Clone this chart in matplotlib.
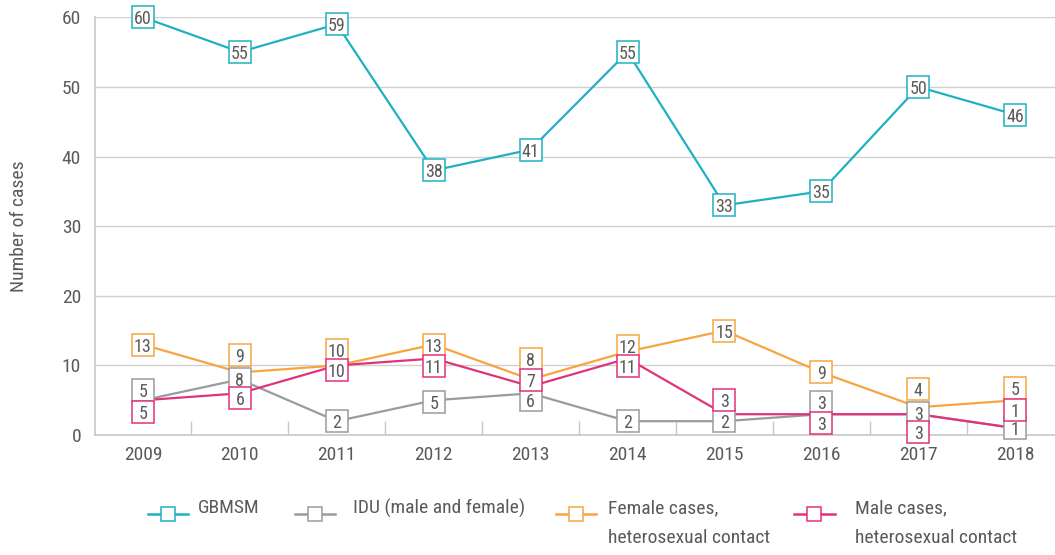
import numpy as np
import matplotlib
matplotlib.use("Agg")
import matplotlib.pyplot as plt
from matplotlib.lines import Line2D
from matplotlib.transforms import ScaledTranslation

plt.rcParams['font.family'] = ['Roboto Condensed', 'Liberation Sans Narrow',
                               'Open Sans Condensed', 'DejaVu Sans']

# --- data -------------------------------------------------------------
years = ['2009', '2010', '2011', '2012', '2013', '2014', '2015', '2016', '2017', '2018']
gbmsm = [60, 55, 59, 38, 41, 55, 33, 35, 50, 46]
idu = [5, 8, 2, 5, 6, 2, 2, 3, 3, 1]
female_het = [13, 9, 10, 13, 8, 12, 15, 9, 4, 5]
male_het = [5, 6, 10, 11, 7, 11, 3, 3, 3, 1]

series_names = ['GBMSM', 'IDU (male and female)',
                'Female cases,\nheterosexual contact',
                'Male cases,\nheterosexual contact']

# --- style / layout -----------------------------------------------------
colors = ['#1fb1c2', '#9b9b9b', '#f7a541', '#e0337b']
text_color = '#5a5a5a'
# vertical shift of value boxes (pixels) so they do not sit on top of each other
label_shift = [
    [0, 0, 0, 0, 0, 0, 0, 0, 0, 0],
    [10, 0, 0, -2, -7, 0, 0, 12, 1, 0],
    [0, 17, 15, 0, 20, 6, 0, 0, 18, 12],
    [-12, -5, -5, -7, 6, -7, 14, -9, -18, 18],
]

fig = plt.figure(figsize=(10.55, 5.55), dpi=100)
ax = fig.add_axes([0.090, 0.216, 0.910, 0.753])

x = np.arange(len(years))
all_series = [gbmsm, idu, female_het, male_het]

# draw order: grey under the others, GBMSM on top
for k in [1, 2, 3, 0]:
    ax.plot(x, all_series[k], color=colors[k], lw=1.6, zorder=2 + k * 0.1)

z = 5
for k in [1, 2, 3, 0]:
    vals = all_series[k]
    for i, v in enumerate(vals):
        shift = ScaledTranslation(0, label_shift[k][i] / 100, fig.dpi_scale_trans)
        tr = ax.transData + shift
        ax.plot([x[i]], [v], marker='s', ms=16, mfc='white', mec=colors[k],
                mew=1.1, ls='none', transform=tr, zorder=z, clip_on=False)
        ax.text(x[i], v, str(v), transform=tr, ha='center', va='center_baseline',
                fontsize=13, color=text_color, zorder=z + 0.5)
        z += 1

ax.set_xlim(-0.495, 9.41)
ax.set_ylim(0, 60)
ax.set_yticks(np.arange(0, 61, 10))
ax.set_xticks(x)
ax.set_xticklabels(years)
ax.set_xticks(x[:-1] + 0.5, minor=True)
ax.tick_params(axis='x', which='major', length=0, pad=8, labelsize=14,
               labelcolor=text_color)
ax.tick_params(axis='x', which='minor', direction='in', length=10,
               color='#c8c8c8', width=1)
ax.tick_params(axis='y', length=0, pad=10, labelsize=14, labelcolor=text_color)

ax.grid(axis='y', color='#d0d0d0', lw=1)
ax.set_axisbelow(True)
for side in ['top', 'right']:
    ax.spines[side].set_visible(False)
for side in ['left', 'bottom']:
    ax.spines[side].set_color('#c8c8c8')
    ax.spines[side].set_linewidth(1.2)

ax.set_ylabel('Number of cases', fontsize=14, color=text_color, labelpad=24)

# --- legend drawn by hand so spacing follows the original ----------------
handle_x = [0.140, 0.280, 0.527, 0.753]
text_x = [0.188, 0.335, 0.576, 0.810]
handle_len = 0.038
leg_y = 1 - 514 / 555
for k in range(4):
    hx = handle_x[k]
    fig.add_artist(Line2D([hx, hx + handle_len], [leg_y, leg_y], transform=fig.transFigure,
                          color=colors[k], lw=1.8))
    fig.add_artist(Line2D([hx + handle_len / 2], [leg_y], transform=fig.transFigure,
                          marker='s', ms=10, mfc='white', mec=colors[k], mew=1.1,
                          ls='none'))
    fig.text(text_x[k], leg_y + 0.027, series_names[k], ha='left', va='top',
             fontsize=14, color=text_color, linespacing=1.85)

fig.savefig('out.png', dpi=100)
